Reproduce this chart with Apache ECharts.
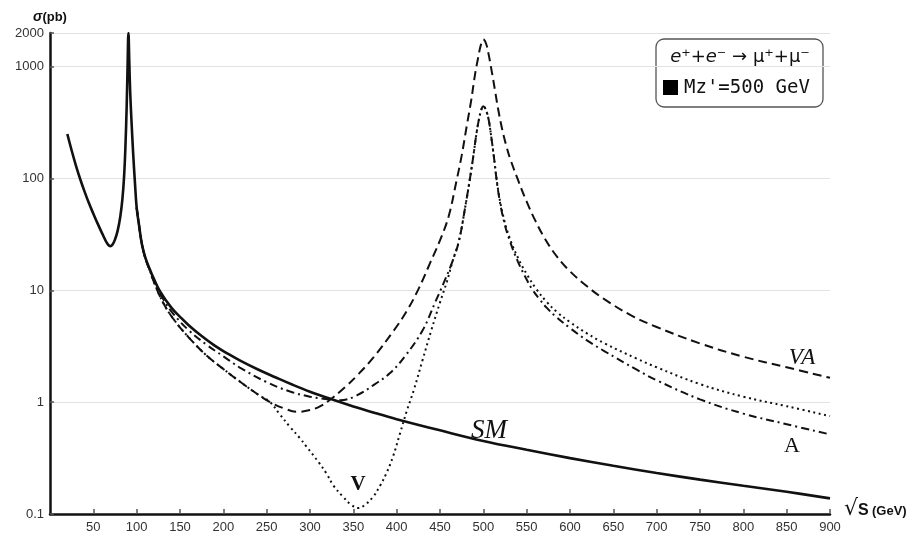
<!DOCTYPE html>
<html>
<head>
<meta charset="utf-8">
<script src="https://cdn.jsdelivr.net/npm/echarts@6/dist/echarts.min.js"></script>
<style>
html, body { margin: 0; background: #fff; }
#main { width: 916px; height: 539px; }
</style>
</head>
<body>
<div id="main"></div>
<script>
// sqrt(s) in GeV, sigma in pb
var smData = [
    [20, 250], [25, 178], [30, 130], [35, 98], [40, 76], [45, 60], [50, 48.5], [55, 39.5], [60, 32.5],
    [64, 28], [67, 25.6], [69.5, 24.8], [72, 25.5], [75, 28.5], [78, 34], [81, 45], [83.5, 65],
    [85.5, 105], [87, 190], [88.5, 450], [89.5, 1000], [90.5, 2000], [91.5, 1100], [92.5, 600],
    [94, 330], [96, 165], [98, 92], [100, 55], [103, 37], [106, 26], [110, 19.6], [115, 15.5],
    [120, 12.6], [127, 9.8], [140, 7.0], [150, 5.8], [160, 4.88], [175, 3.9], [190, 3.2], [205, 2.72],
    [220, 2.34], [240, 1.96], [260, 1.67], [280, 1.43], [300, 1.24], [325, 1.06], [350, 0.915],
    [375, 0.8], [400, 0.705], [450, 0.56], [500, 0.45], [550, 0.375], [600, 0.316], [650, 0.27],
    [700, 0.233], [750, 0.203], [800, 0.179], [850, 0.158], [900, 0.138]
];
var vaData = [
    [100, 55], [103, 37], [106, 26], [110, 19.4], [115, 15.2], [120, 11.8], [130, 7.9], [142, 5.6],
    [160, 3.8], [181, 2.6], [200, 1.98], [219, 1.53], [240, 1.17], [254, 1.0], [270, 0.88], [285, 0.82],
    [300, 0.85], [312, 0.92], [325, 1.08], [340, 1.35], [354, 1.72], [373, 2.5], [396, 4.3], [411.5, 6.5],
    [425, 10.2], [438.5, 17.5], [450, 28], [460, 46], [469, 95], [475, 160], [481, 300], [486, 500],
    [490.4, 850], [494, 1200], [497, 1550], [500, 1750], [503, 1620], [506, 1300], [510, 880], [514, 580],
    [517, 420], [522, 270], [527, 190], [531, 150], [540, 97], [550, 62], [560, 42], [571, 29], [585, 20],
    [600, 14.8], [620, 10.8], [640, 8.3], [670, 6.0], [700, 4.7], [750, 3.35], [800, 2.55], [850, 2.05],
    [900, 1.65]
];
var vData = [
    [100, 55], [103, 37], [106, 26], [110, 19.4], [115, 15.2], [120, 11.8], [130, 7.9], [142, 5.6],
    [160, 3.8], [181, 2.6], [200, 1.98], [219, 1.53], [240, 1.17], [254, 1.0], [265, 0.78], [277, 0.6],
    [288, 0.48], [296, 0.4], [310, 0.29], [319, 0.23], [327, 0.18], [338, 0.143], [347, 0.122],
    [356, 0.113], [364, 0.122], [373, 0.143], [381, 0.18], [388, 0.23], [396, 0.33], [404, 0.53],
    [412, 0.85], [420, 1.3], [430, 2.4], [440, 4.4], [450, 7.8], [458, 12], [465, 18.7], [472, 28],
    [479, 55], [485, 105], [489, 170], [492, 250], [495, 340], [498, 420], [500, 443], [503, 410],
    [506, 340], [509, 240], [512, 160], [517, 80], [523, 46], [530, 30], [540, 19.5], [550, 14],
    [561, 10.3], [573, 7.9], [585, 6.4], [600, 5.2], [620, 4.1], [640, 3.35], [677, 2.45], [700, 2.05],
    [750, 1.45], [800, 1.12], [850, 0.92], [900, 0.75]
];
var aData = [
    [100, 55], [103, 37], [106, 26], [110, 19.4], [115, 15.3], [120, 12.2], [130, 8.5], [142, 6.2],
    [160, 4.4], [181, 3.25], [200, 2.57], [219, 2.04], [250, 1.51], [277, 1.245], [300, 1.12],
    [320, 1.06], [335, 1.04], [354, 1.15], [375, 1.45], [392, 1.81], [410, 2.6], [430, 4.4], [445, 8],
    [455, 12], [465, 18.7], [472, 28], [479, 55], [485, 105], [489, 170], [492, 250], [495, 340],
    [498, 420], [500, 443], [503, 410], [506, 340], [509, 240], [512, 160], [517, 78], [523, 44],
    [530, 28.5], [540, 18], [550, 12.5], [556, 10.3], [565, 8.3], [573, 7.0], [585, 5.7], [600, 4.6],
    [620, 3.55], [640, 2.85], [677, 1.95], [700, 1.57], [750, 1.06], [800, 0.79], [850, 0.635],
    [900, 0.515]
];
var yTicks = [0.1, 1, 10, 100, 1000, 2000];

var myChart = echarts.init(document.getElementById('main'));

function curve(name, data, width, dash) {
    return {
        name: name,
        type: 'line',
        data: data,
        smooth: 0.4,
        showSymbol: false,
        silent: true,
        lineStyle: { color: '#111', width: width, type: dash }
    };
}

var option = {
    animation: false,
    backgroundColor: '#fff',
    grid: { left: 50, right: 86, top: 33, bottom: 25, containLabel: false },
    xAxis: {
        type: 'value',
        min: 0,
        max: 900,
        interval: 50,
        name: '{r|√}{s|S} {g|(GeV)}',
        nameLocation: 'end',
        nameGap: 14,
        nameTextStyle: {
            rich: {
                r: { fontSize: 22, fontFamily: 'DejaVu Sans', color: '#111', padding: [0, 0, 4, 0] },
                s: { fontSize: 16, fontWeight: 'bold', fontFamily: 'Liberation Sans', color: '#111' },
                g: { fontSize: 13, fontWeight: 'bold', fontFamily: 'Liberation Sans', color: '#111' }
            },
            padding: [0, 0, 6, 0]
        },
        axisLine: { lineStyle: { color: '#111', width: 2.5 } },
        axisTick: { inside: true, length: 5, lineStyle: { color: '#555', width: 1.5 } },
        axisLabel: { showMinLabel: false, color: '#333', fontSize: 13, fontFamily: 'Liberation Sans', margin: 7 },
        splitLine: { show: false }
    },
    yAxis: {
        type: 'log',
        logBase: 10,
        min: 0.1,
        max: 2000,
        name: '{s|σ}(pb)',
        nameLocation: 'end',
        nameGap: 9,
        nameTextStyle: {
            fontWeight: 'bold',
            fontSize: 13,
            fontFamily: 'Liberation Sans',
            color: '#111',
            rich: { s: { fontStyle: 'italic', fontWeight: 'bold', fontSize: 14, fontFamily: 'Liberation Sans', color: '#111' } }
        },
        axisLine: { show: true, lineStyle: { color: '#111', width: 2.5 } },
        axisTick: { show: true, inside: true, length: 4, customValues: yTicks, lineStyle: { color: '#555', width: 1.5 } },
        axisLabel: {
            customValues: yTicks,
            color: '#333',
            fontSize: 13,
            fontFamily: 'Liberation Sans',
            margin: 6,
            formatter: function (v) { return String(+Number(v).toPrecision(4)); }
        },
        splitLine: { show: true, lineStyle: { color: '#e2e2e2', width: 1.2 } }
    },
    series: [
        curve('SM', smData, 2.6, 'solid'),
        curve('A', aData, 2, [8, 4, 2, 4]),
        curve('V', vData, 2, [2, 3.5]),
        curve('VA', vaData, 2, [9, 5])
    ],
    graphic: [
        { type: 'text', x: 802, y: 358, style: { text: 'VA', font: 'italic 23px "Liberation Serif"', fill: '#111', align: 'center', verticalAlign: 'middle' } },
        { type: 'text', x: 792, y: 446, style: { text: 'A', font: '22px "Liberation Serif"', fill: '#111', align: 'center', verticalAlign: 'middle' } },
        { type: 'text', x: 489, y: 431, style: { text: 'SM', font: 'italic 27px "Liberation Serif"', fill: '#111', align: 'center', verticalAlign: 'middle' } },
        { type: 'text', x: 358, y: 485, style: { text: 'V', font: 'bold 21px "Liberation Serif"', fill: '#111', align: 'center', verticalAlign: 'middle' } },
        {
            type: 'group',
            children: [
                { type: 'rect', shape: { x: 656, y: 39, width: 167, height: 68, r: 8 }, style: { fill: '#fff', stroke: '#555', lineWidth: 1.3 } },
                {
                    type: 'text', x: 740, y: 57,
                    style: {
                        text: '{i|e}⁺+{i|e}⁻ → μ⁺+μ⁻',
                        font: '18px "DejaVu Sans"',
                        fill: '#111',
                        align: 'center',
                        verticalAlign: 'middle',
                        rich: { i: { fontStyle: 'italic', fontSize: 18, fontFamily: 'DejaVu Sans', color: '#111' } }
                    }
                },
                { type: 'rect', shape: { x: 663, y: 80, width: 15, height: 15 }, style: { fill: '#000' } },
                { type: 'text', x: 684, y: 88, style: { text: "Mz'=500 GeV", font: '19px "DejaVu Sans Mono"', fill: '#111', align: 'left', verticalAlign: 'middle' } }
            ]
        }
    ]
};

myChart.setOption(option);
</script>
</body>
</html>
